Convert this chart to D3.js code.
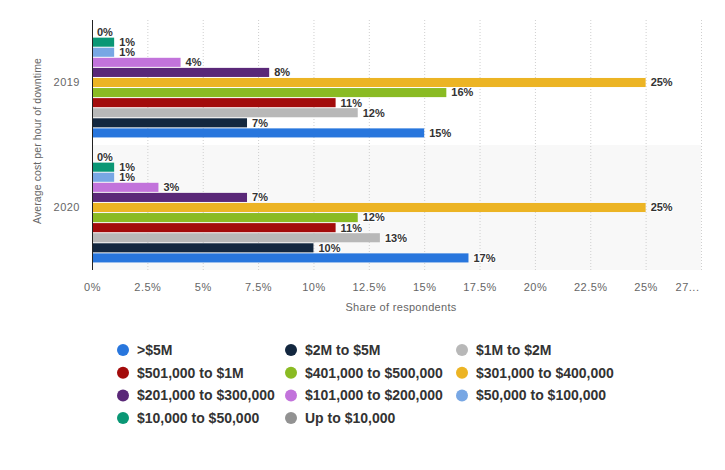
<!DOCTYPE html>
<html>
<head>
<meta charset="utf-8">
<script src="https://cdn.jsdelivr.net/npm/d3@7"></script>
<style>
  body { margin: 0; background: #fff; }
  text { font-family: "Liberation Sans", Arial, sans-serif; }
</style>
</head>
<body>
<svg id="chart" width="725" height="470"></svg>
<script>
// categories (y axis) and series (legend order)
const years = ["2019", "2020"];
const series = [">$5M", "$2M to $5M", "$1M to $2M", "$501,000 to $1M", "$401,000 to $500,000",
  "$301,000 to $400,000", "$201,000 to $300,000", "$101,000 to $200,000", "$50,000 to $100,000",
  "$10,000 to $50,000", "Up to $10,000"];
const colors = ["#2876dd", "#13273f", "#b8b8b8", "#a30b0b", "#8abb23", "#ecb424",
  "#5a2878", "#c273db", "#78a7e4", "#0a9775", "#929292"];
const values2019 = [15, 7, 12, 11, 16, 25, 8, 4, 1, 1, 0];
const values2020 = [17, 10, 13, 11, 12, 25, 7, 3, 1, 1, 0];
const xTicks = [0, 2.5, 5, 7.5, 10, 12.5, 15, 17.5, 20, 22.5, 25, 27.5];

const data = [];
years.forEach((yr, i) => {
  const vals = i === 0 ? values2019 : values2020;
  series.forEach((s, j) => data.push({ year: yr, series: s, value: vals[j], color: colors[j] }));
});

const svg = d3.select("#chart");
const margin = { top: 20, left: 92, right: 24, bottom: 200 };
const width = 725 - margin.left - margin.right;
const height = 470 - margin.top - margin.bottom;
const g = svg.append("g").attr("transform", `translate(${margin.left},${margin.top})`);

const x = d3.scaleLinear().domain([0, 27.5]).range([0, width]);
const y0 = d3.scaleBand().domain(years).range([0, height]);
// bars drawn top to bottom in reverse legend order
const y1 = d3.scaleBand().domain(series.slice().reverse()).range([0, y0.bandwidth()])
  .paddingInner(0.1).paddingOuter(0.75);

// alternating band
g.selectAll("rect.band")
  .data(years)
  .enter()
  .append("rect")
  .attr("class", "band")
  .attr("x", 0)
  .attr("y", (d) => y0(d))
  .attr("width", width)
  .attr("height", y0.bandwidth())
  .attr("fill", (d, i) => (i % 2 ? "#f8f8f8" : "#fff"));

// gridlines
g.append("g")
  .selectAll("line")
  .data(xTicks.slice(1))
  .enter()
  .append("line")
  .attr("x1", (d) => x(d) + 0.5)
  .attr("x2", (d) => x(d) + 0.5)
  .attr("y1", 0)
  .attr("y2", height)
  .attr("stroke", "#cfcfcf")
  .attr("stroke-dasharray", "1,2");

// bars
g.selectAll("rect.bar")
  .data(data)
  .enter()
  .append("rect")
  .attr("class", "bar")
  .attr("x", 0)
  .attr("y", (d) => y0(d.year) + y1(d.series))
  .attr("width", (d) => x(d.value))
  .attr("height", y1.bandwidth())
  .attr("fill", (d) => d.color);

// value labels
g.selectAll("text.val")
  .data(data)
  .enter()
  .append("text")
  .attr("class", "val")
  .attr("x", (d) => x(d.value) + 5)
  .attr("y", (d) => y0(d.year) + y1(d.series) + y1.bandwidth() / 2)
  .attr("dy", "0.35em")
  .attr("font-size", 11)
  .attr("font-weight", "bold")
  .attr("fill", "#333")
  .attr("stroke", "#fff")
  .attr("stroke-width", 2)
  .attr("paint-order", "stroke")
  .text((d) => d.value + "%");

// left axis line
g.append("line")
  .attr("x1", 0.5).attr("x2", 0.5)
  .attr("y1", 0).attr("y2", height)
  .attr("stroke", "#222");

// y axis labels
const yAxis = g.append("g").call(d3.axisLeft(y0).tickSize(0).tickPadding(12));
yAxis.select(".domain").remove();
yAxis.selectAll("text").attr("font-size", 11).attr("fill", "#666")
  .style("font-family", "Liberation Sans, Arial, sans-serif").attr("letter-spacing", "0.5");

// x axis labels
const xAxis = g.append("g")
  .attr("transform", `translate(0,${height})`)
  .call(d3.axisBottom(x).tickValues(xTicks).tickSize(0).tickPadding(13)
    .tickFormat((d) => (d === 27.5 ? "27..." : d3.format("")(d) + "%")));
xAxis.select(".domain").remove();
xAxis.selectAll("text").attr("font-size", 11).attr("fill", "#666")
  .attr("letter-spacing", "0.5")
  .style("font-family", "Liberation Sans, Arial, sans-serif");
xAxis.selectAll(".tick").filter((d) => d === 27.5).select("text").attr("dx", -14);

// axis titles
svg.append("text")
  .attr("x", 401)
  .attr("y", 311)
  .attr("text-anchor", "middle")
  .attr("font-size", 11)
  .attr("letter-spacing", "0.3")
  .attr("fill", "#666")
  .text("Share of respondents");

svg.append("text")
  .attr("transform", "translate(41,141) rotate(-90)")
  .attr("text-anchor", "middle")
  .attr("font-size", 10.5)
  .attr("letter-spacing", "0.1")
  .attr("fill", "#666")
  .text("Average cost per hour of downtime");

// legend
const colX = [123, 291, 462];
const legend = svg.append("g")
  .selectAll("g")
  .data(series)
  .enter()
  .append("g")
  .attr("transform", (d, i) => `translate(${colX[i % 3]},${350 + Math.floor(i / 3) * 22.7})`);
legend.append("circle").attr("r", 6).attr("fill", (d, i) => colors[i]);
legend.append("text")
  .attr("x", 14)
  .attr("dy", "0.35em")
  .attr("font-size", 14)
  .attr("font-weight", "bold")
  .attr("fill", "#333")
  .text((d) => d);
</script>
</body>
</html>
